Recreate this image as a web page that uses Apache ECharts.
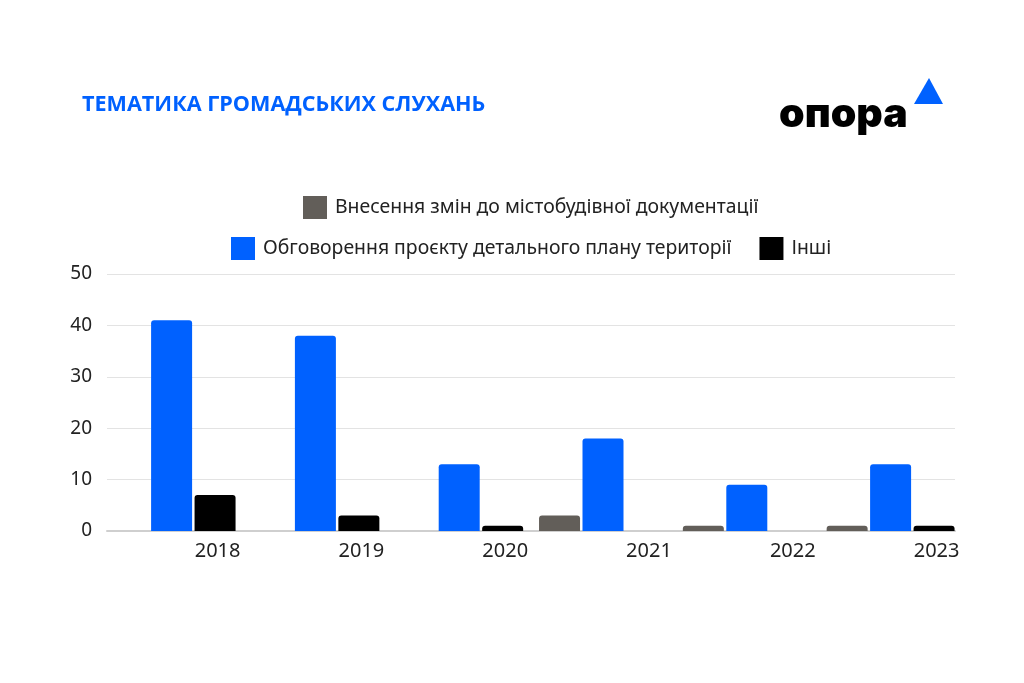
<!DOCTYPE html>
<html>
<head>
<meta charset="utf-8">
<style>
  html, body { margin: 0; padding: 0; background: #fff; }
  #chart { width: 1024px; height: 683px; }
</style>
<script src="https://cdn.jsdelivr.net/npm/echarts@6/dist/echarts.min.js"></script>
</head>
<body>
<div id="chart"></div>
<script>
const years = ['2018', '2019', '2020', '2021', '2022', '2023'];
const seriesNames = [
  'Внесення змін до містобудівної документації',
  'Обговорення проєкту детального плану території',
  'Інші'
];
const changesDocs = [0, 0, 0, 3, 1, 1];
const detailPlan = [41, 38, 13, 18, 9, 13];
const others = [7, 3, 1, 0, 0, 1];
const yTicks = [0, 10, 20, 30, 40, 50];

const FONT = '"Noto Sans", sans-serif';
const chart = echarts.init(document.getElementById('chart'));

// grid 0 carries the y axis + gridlines, grid 1 carries the bars (they touch the edges)
const yMin = yTicks[0], yMax = yTicks[yTicks.length - 1], yStep = yTicks[1] - yTicks[0];

function bar(name, data, color) {
  return {
    name: name,
    type: 'bar',
    xAxisIndex: 1,
    yAxisIndex: 1,
    data: data,
    barWidth: 41,
    barGap: '6%',
    itemStyle: { color: color, borderRadius: [3, 3, 0, 0] }
  };
}

const legendText = { fontFamily: FONT, fontSize: 19.4, color: '#222', padding: [0, 0, 0, 3] };

chart.setOption({
  animation: false,
  backgroundColor: '#fff',
  graphic: [
    {
      type: 'text', left: 82, top: 94,
      style: { text: 'ТЕМАТИКА ГРОМАДСЬКИХ СЛУХАНЬ', fill: '#0061ff',
        font: 'bold 21.6px "Open Sans", sans-serif' }
    },
    {
      type: 'text', left: 779, top: 94,
      style: { text: 'опора', fill: '#000', font: '900 41px "Inter", sans-serif' }
    },
    {
      type: 'polygon',
      shape: { points: [[929, 78], [914, 104], [943, 104]] },
      style: { fill: '#0061ff' }
    }
  ],
  legend: [
    {
      data: [seriesNames[0]],
      left: 303, top: 196, padding: 0,
      icon: 'rect', itemWidth: 24, itemHeight: 23,
      textStyle: legendText
    },
    {
      data: [seriesNames[1], seriesNames[2]],
      left: 231, top: 237, padding: 0,
      icon: 'rect', itemWidth: 24, itemHeight: 23, itemGap: 28,
      textStyle: legendText
    }
  ],
  grid: [
    { left: 107, right: 69, top: 274, bottom: 152 },
    { left: 99.7, right: 61.5, top: 274, bottom: 152 }
  ],
  xAxis: [
    {
      type: 'category', gridIndex: 0, data: years,
      axisLine: { lineStyle: { color: '#cfcfcf', width: 2 } },
      axisTick: { show: false }, axisLabel: { show: false }
    },
    {
      type: 'category', gridIndex: 1, data: years,
      axisLine: { show: false },
      axisTick: { show: false },
      axisLabel: { fontFamily: FONT, fontSize: 20, color: '#222', margin: 10,
        padding: [0, 0, 0, 92] }
    }
  ],
  yAxis: [
    {
      type: 'value', gridIndex: 0, min: yMin, max: yMax, interval: yStep,
      axisLine: { show: false }, axisTick: { show: false },
      axisLabel: { fontFamily: FONT, fontSize: 19, color: '#222', margin: 15 },
      splitLine: { lineStyle: { color: '#e3e3e3', width: 1 } }
    },
    { type: 'value', gridIndex: 1, min: yMin, max: yMax, interval: yStep, show: false }
  ],
  series: [
    bar(seriesNames[0], changesDocs, '#625e59'),
    bar(seriesNames[1], detailPlan, '#0061ff'),
    bar(seriesNames[2], others, '#000000')
  ]
});
</script>
</body>
</html>
